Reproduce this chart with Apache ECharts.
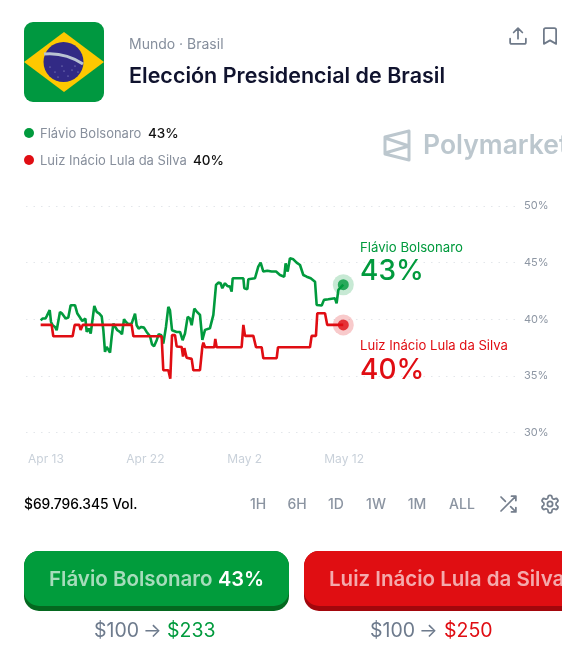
<!DOCTYPE html>
<html style="height: 100%">

<head>
  <meta charset="utf-8">
  <title>Elección Presidencial de Brasil</title>
  <script src="https://cdn.jsdelivr.net/npm/echarts@6/dist/echarts.min.js"></script>
</head>

<body style="height: 100%; margin: 0; background: #fff">
  <div id="container" style="width: 582px; height: 665px"></div>
  <script type="text/javascript">
    // days since Apr 13, then % chance
    const flavioDays = [-0.52, -0.32, -0.19, -0.06, 0.06, 0.23, 0.36, 0.49, 0.65, 0.88, 1.04, 1.2, 1.36, 1.56, 1.75, 1.91, 2.17, 2.4, 2.59, 2.82, 3.05, 3.31, 3.53, 3.83, 3.96, 4.15, 4.35, 4.54, 4.7, 4.93, 5.19, 5.42, 5.58, 5.74, 5.9, 6.06, 6.23, 6.39, 6.55, 6.74, 6.94, 7.2, 7.39, 7.59, 7.78, 8.01, 8.33, 8.66, 8.82, 9.01, 9.27, 9.53, 9.79, 10.12, 10.31, 10.51, 10.77, 10.96, 11.22, 11.41, 11.67, 11.9, 12.06, 12.26, 12.45, 12.71, 13.04, 13.29, 13.52, 13.78, 14.01, 14.17, 14.43, 14.66, 14.98, 15.21, 15.47, 15.95, 16.28, 16.54, 16.77, 16.99, 17.15, 17.41, 17.64, 17.9, 18.06, 18.16, 19.2, 19.29, 19.59, 19.68, 20.33, 20.65, 20.88, 21.14, 21.53, 21.95, 22.38, 22.76, 23.18, 23.31, 23.51, 23.73, 24.06, 24.38, 24.71, 25.03, 25.36, 25.75, 26.17, 26.33, 26.82, 27.04, 27.46, 28.11, 28.27, 28.44, 28.92];
    const flavioPct = [39.9, 40.06, 40.15, 40.06, 40.26, 40.35, 40.8, 39.76, 39.47, 39.32, 39.03, 39.18, 40.65, 40.5, 40.35, 40.06, 40.15, 41.24, 41.32, 41.24, 40.5, 40.15, 39.85, 40.06, 38.88, 39.18, 38.74, 38.79, 41.18, 40.65, 40.5, 40.26, 39.03, 37.12, 37.56, 37.71, 37.06, 38.44, 39.62, 39.32, 39.03, 38.88, 38.68, 40.0, 39.76, 39.56, 39.62, 40.5, 39.47, 39.18, 39.32, 39.26, 38.88, 38.5, 37.79, 37.62, 38.15, 38.68, 38.59, 37.85, 39.32, 41.09, 40.79, 39.03, 39.03, 38.88, 38.88, 38.15, 38.74, 40.21, 40.06, 39.47, 40.94, 40.68, 40.38, 38.18, 39.06, 39.21, 40.38, 43.03, 43.24, 43.18, 42.74, 43.18, 42.94, 42.88, 42.44, 43.62, 43.62, 42.74, 42.65, 43.53, 43.62, 44.65, 45.0, 44.21, 44.29, 44.21, 44.21, 43.91, 43.76, 44.94, 44.21, 45.38, 45.29, 45.0, 44.79, 43.91, 43.76, 43.62, 43.32, 41.26, 41.21, 41.71, 41.76, 41.85, 41.41, 42.59, 43.05];
    const lulaDays = [-0.52, 0.55, 0.71, 2.59, 2.79, 3.24, 3.37, 3.57, 8.33, 8.5, 11.25, 11.41, 11.9, 12.09, 12.26, 12.55, 12.71, 13.2, 13.33, 13.46, 13.68, 14.17, 14.33, 14.98, 15.21, 15.31, 15.47, 16.37, 16.47, 16.6, 19.03, 19.2, 19.36, 20.17, 20.43, 20.98, 21.14, 22.44, 22.57, 25.68, 25.84, 26.26, 26.39, 27.14, 27.36, 28.92];
    const lulaPct = [39.5, 39.5, 38.5, 38.5, 39.5, 39.5, 39.05, 39.5, 39.5, 38.5, 38.5, 35.5, 35.5, 34.75, 38.6, 38.6, 37.6, 37.55, 36.7, 37.45, 36.6, 36.5, 35.5, 35.5, 37.59, 37.94, 37.53, 37.53, 38.26, 37.53, 37.53, 39.5, 38.53, 38.53, 37.53, 37.53, 36.56, 36.56, 37.53, 37.53, 38.53, 38.53, 40.53, 40.53, 39.5, 39.5];
    const xTickDays = [0, 9.67, 19.33, 29];
    const xTickLabels = ['Apr 13', 'Apr 22', 'May 2', 'May 12'];
    const timeRanges = ['1H', '6H', '1D', '1W', '1M', 'ALL'];

    const GREEN = '#019a3d';
    const RED = '#e00d13';
    const FONT = 'Inter, "Noto Sans", sans-serif';

    const pairs = (xs, ys) => xs.map((x, i) => [x, ys[i]]);
    const last = (xs, ys) => [[xs[xs.length - 1], ys[ys.length - 1]]];

    function txt(x, y, text, size, fill, weight, align) {
      return {
        type: 'text', x: x, y: y + 1, z: 10,
        style: { text: text, fontSize: size, fill: fill, fontWeight: weight || 400, fontFamily: FONT, align: align || 'left', verticalAlign: 'middle' }
      };
    }

    // 注册图标 graphic has no path type, so each svg path becomes a shape
    echarts.graphic.registerShape('iconShare', echarts.graphic.extendPath('M21 15v4a2 2 0 0 1-2 2H5a2 2 0 0 1-2-2v-4 M17 8l-5-5-5 5 M12 3v12', {}));
    echarts.graphic.registerShape('iconBookmark', echarts.graphic.extendPath('M19 21l-7-4-7 4V5a2 2 0 0 1 2-2h10a2 2 0 0 1 2 2z', {}));
    echarts.graphic.registerShape('iconShuffle', echarts.graphic.extendPath('M16 3h5v5 M4 20L21 3 M21 16v5h-5 M15 15l6 6 M4 4l5 5', {}));
    echarts.graphic.registerShape('iconGear', echarts.graphic.extendPath('M12.22 2h-.44a2 2 0 0 0-2 2v.18a2 2 0 0 1-1 1.73l-.43.25a2 2 0 0 1-2 0l-.15-.08a2 2 0 0 0-2.73.73l-.22.38a2 2 0 0 0 .73 2.73l.15.1a2 2 0 0 1 1 1.72v.51a2 2 0 0 1-1 1.74l-.15.09a2 2 0 0 0-.73 2.73l.22.38a2 2 0 0 0 2.73.73l.15-.08a2 2 0 0 1 2 0l.43.25a2 2 0 0 1 1 1.73V20a2 2 0 0 0 2 2h.44a2 2 0 0 0 2-2v-.18a2 2 0 0 1 1-1.73l.43-.25a2 2 0 0 1 2 0l.15.08a2 2 0 0 0 2.73-.73l.22-.39a2 2 0 0 0-.73-2.73l-.15-.08a2 2 0 0 1-1-1.74v-.5a2 2 0 0 1 1-1.74l.15-.09a2 2 0 0 0 .73-2.73l-.22-.38a2 2 0 0 0-2.73-.73l-.15.08a2 2 0 0 1-2 0l-.43-.25a2 2 0 0 1-1-1.73V4a2 2 0 0 0-2-2z M15 12a3 3 0 1 1-6 0a3 3 0 1 1 6 0z', {}));
    echarts.graphic.registerShape('logoMark', echarts.graphic.extendPath('M385 137 L409 131 V160 L385 154 Z M385 138 L409 146 L385 153', {}));
    echarts.graphic.registerShape('flagBand', echarts.graphic.extendPath('M44 54 Q65 52 83 64', {}));

    function icon(type, cx, cy, size, color) {
      const s = size / 24;
      return {
        type: type, x: cx - 12 * s, y: cy - 12 * s, scaleX: s, scaleY: s, z: 10,
        style: { fill: 'none', stroke: color, lineWidth: 2, lineCap: 'round', lineJoin: 'round' }
      };
    }
    function button(x, w, main, dark) {
      return [
        { type: 'rect', z: 5, shape: { x: x, y: 551, width: w, height: 60, r: 15 }, style: { fill: dark } },
        { type: 'rect', z: 6, shape: { x: x, y: 551, width: w, height: 55, r: 15 }, style: { fill: main } }
      ];
    }

    const flag = [
      { type: 'rect', shape: { x: 24, y: 22, width: 80, height: 80, r: 9 }, style: { fill: '#009840' } },
      { type: 'polygon', shape: { points: [[24, 62], [64, 32], [104, 62], [64, 92]] }, style: { fill: '#fec800' } },
      { type: 'circle', shape: { cx: 63.5, cy: 62, r: 20 }, style: { fill: '#322a85' } },
      { type: 'flagBand', z: 2, style: { fill: 'none', stroke: '#b9c3d2', lineWidth: 3 } }
    ];
    [[50, 67], [55, 72], [62, 66], [64, 71], [68, 76], [72, 70], [78, 72], [58, 77], [75, 66]].forEach(p => {
      flag.push({ type: 'circle', z: 2, shape: { cx: p[0], cy: p[1], r: 0.6 }, style: { fill: '#a9aed8' } });
    });

    const rangeX = [258, 297, 336, 376, 417, 462];

    let myChart = echarts.init(document.getElementById('container'));
    let option = {
      animation: false,
      grid: { left: 26, width: 492, top: 206, height: 226.5 },
      xAxis: {
        type: 'value',
        min: -1.945,
        max: 45.915,
        splitLine: { show: false },
        axisLine: { show: false },
        axisTick: { show: false },
        axisLabel: {
          customValues: xTickDays,
          formatter: v => xTickLabels[xTickDays.indexOf(v)],
          color: '#c9d1da',
          fontSize: 12,
          fontFamily: FONT,
          margin: 21
        }
      },
      yAxis: {
        type: 'value',
        position: 'right',
        min: 30,
        max: 50,
        interval: 5,
        axisLine: { show: false },
        axisTick: { show: false },
        splitLine: { lineStyle: { color: '#e3e6ea', width: 1, type: [1.5, 6] } },
        axisLabel: { formatter: '{value}%', color: '#8d96a3', fontSize: 11, fontFamily: FONT, margin: 6 }
      },
      series: [
        { type: 'line', name: 'Luiz Inácio Lula da Silva', data: pairs(lulaDays, lulaPct), showSymbol: false, lineStyle: { color: RED, width: 2.6 }, z: 3 },
        { type: 'line', name: 'Flávio Bolsonaro', data: pairs(flavioDays, flavioPct), showSymbol: false, lineStyle: { color: GREEN, width: 2.6 }, z: 2 },
        { type: 'scatter', data: last(flavioDays, flavioPct), symbolSize: 21, itemStyle: { color: GREEN, opacity: 0.22 }, z: 4 },
        { type: 'scatter', data: last(flavioDays, flavioPct), symbolSize: 11, itemStyle: { color: GREEN }, z: 5 },
        { type: 'scatter', data: last(lulaDays, lulaPct), symbolSize: 21, itemStyle: { color: RED, opacity: 0.22 }, z: 4 },
        { type: 'scatter', data: last(lulaDays, lulaPct), symbolSize: 11, itemStyle: { color: RED }, z: 5 }
      ],
      graphic: flag.concat(
        [
          txt(129, 44, 'Mundo · Brasil', 14, '#858e9c'),
          txt(129, 76, 'Elección Presidencial de Brasil', 21.5, '#10132e', 600),
          icon('iconShare', 518, 36, 21, '#6f7a89'),
          icon('iconBookmark', 550, 36, 21, '#6f7a89'),
          { type: 'circle', shape: { cx: 29, cy: 133, r: 5 }, style: { fill: GREEN } },
          txt(40, 133, 'Flávio Bolsonaro', 13, '#878f9c'),
          txt(148, 133, '43%', 13.5, '#111', 500),
          { type: 'circle', shape: { cx: 29, cy: 160, r: 5 }, style: { fill: RED } },
          txt(40, 160, 'Luiz Inácio Lula da Silva', 13, '#878f9c'),
          txt(193, 160, '40%', 13.5, '#111', 500),
          { type: 'logoMark', style: { fill: 'none', stroke: '#bcc7ce', lineWidth: 3, lineJoin: 'round' } },
          txt(423, 145, 'Polymarket', 26.5, '#bcc7ce', 600),
          txt(360, 247, 'Flávio Bolsonaro', 13.2, GREEN),
          txt(360, 271, '43%', 28, GREEN, 500),
          txt(360, 345, 'Luiz Inácio Lula da Silva', 13.1, RED),
          txt(360, 370, '40%', 28, RED, 500),
          txt(24, 503.5, '$69.796.345 Vol.', 13.8, '#000', 500),
          icon('iconShuffle', 508, 504, 21, '#757f8d'),
          icon('iconGear', 550, 504, 21, '#757f8d')
        ],
        timeRanges.map((t, i) => txt(rangeX[i], 503.5, t, 14, '#8b94a1', 500, 'center')),
        button(24, 265, '#019c3c', '#04681f'),
        button(304, 320, '#e00e12', '#a3070c'),
        [
          txt(49, 578.5, 'Flávio Bolsonaro', 20.5, 'rgba(255,255,255,0.65)', 600),
          txt(218, 578.5, '43%', 20, '#fff', 600),
          txt(329, 578.5, 'Luiz Inácio Lula da Silva', 20.5, 'rgba(255,255,255,0.65)', 600),
          txt(94, 630.5, '$100', 19.5, '#6e7b8d'),
          txt(143, 630.5, '→', 19.5, '#6e7b8d'),
          txt(167, 630.5, '$233', 19.5, GREEN),
          txt(370, 630.5, '$100', 19.5, '#6e7b8d'),
          txt(419, 630.5, '→', 19.5, '#6e7b8d'),
          txt(444, 630.5, '$250', 19.5, RED),
          // right edge of the card cuts everything off
          { type: 'rect', z: 20, shape: { x: 562, y: 0, width: 20, height: 665 }, style: { fill: '#fff' } }
        ]
      )
    };
    myChart.setOption(option);
  </script>
</body>

</html>
